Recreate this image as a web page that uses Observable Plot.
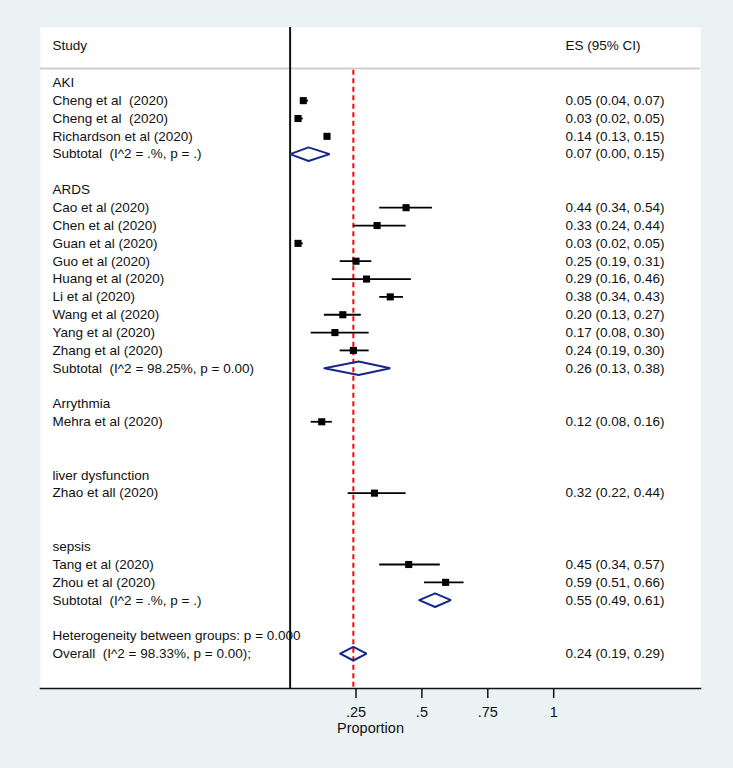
<!DOCTYPE html>
<html><head><meta charset="utf-8">
<script src="https://cdn.jsdelivr.net/npm/d3@7"></script>
<script src="https://cdn.jsdelivr.net/npm/@observablehq/plot@0.6"></script>
<style>
body{margin:0;background:#EAF2F3;}
svg text{white-space:pre;}
</style></head><body><div id="chart"></div>
<script>
// ---- data ----
const groups = ["AKI", "ARDS", "Arrythmia", "liver dysfunction", "sepsis"];
const studyNames = [
  "Cheng et al  (2020)", "Cheng et al  (2020)", "Richardson et al (2020)",
  "Cao et al (2020)", "Chen et al (2020)", "Guan et al (2020)", "Guo et al (2020)",
  "Huang et al (2020)", "Li et al (2020)", "Wang et al (2020)", "Yang et al (2020)",
  "Zhang et al (2020)",
  "Mehra et al (2020)",
  "Zhao et all (2020)",
  "Tang et al (2020)", "Zhou et al (2020)"
];
const studyGroup = [0, 0, 0, 1, 1, 1, 1, 1, 1, 1, 1, 1, 2, 3, 4, 4];
const studyES = [0.05, 0.03, 0.14, 0.44, 0.33, 0.03, 0.25, 0.29, 0.38, 0.20, 0.17, 0.24, 0.12, 0.32, 0.45, 0.59];
const studyLo = [0.04, 0.02, 0.13, 0.34, 0.24, 0.02, 0.19, 0.16, 0.34, 0.13, 0.08, 0.19, 0.08, 0.22, 0.34, 0.51];
const studyHi = [0.07, 0.05, 0.15, 0.54, 0.44, 0.05, 0.31, 0.46, 0.43, 0.27, 0.30, 0.30, 0.16, 0.44, 0.57, 0.66];
const subtotalLabels = ["Subtotal  (I^2 = .%, p = .)", "Subtotal  (I^2 = 98.25%, p = 0.00)", null, null, "Subtotal  (I^2 = .%, p = .)"];
const subtotalES = [0.07, 0.26, null, null, 0.55];
const subtotalLo = [0.00, 0.13, null, null, 0.49];
const subtotalHi = [0.15, 0.38, null, null, 0.61];
const heterogeneityLabel = "Heterogeneity between groups: p = 0.000";
const overallLabel = "Overall  (I^2 = 98.33%, p = 0.00);";
const overallES = 0.24, overallLo = 0.19, overallHi = 0.29;
const xTicks = [0.25, 0.5, 0.75, 1];
const headerLeft = "Study";
const headerRight = "ES (95% CI)";
const xLabel = "Proportion";

// ---- layout rows ----
const fmt = v => v.toFixed(2);
const ciText = (e, l, h) => `${fmt(e)} (${fmt(l)}, ${fmt(h)})`;
const leftTexts = [], rightTexts = [], studies = [], diamondPts = [];
const H = 0.38; // diamond half height in row units
function addDiamond(id, row, e, l, h) {
  diamondPts.push({id, x: l, y: row}, {id, x: e, y: row - H}, {id, x: h, y: row}, {id, x: e, y: row + H}, {id, x: l, y: row});
}
let row = 0;
groups.forEach((g, gi) => {
  leftTexts.push({row, text: g}); row++;
  studyNames.forEach((n, i) => {
    if (studyGroup[i] !== gi) return;
    studies.push({row, es: studyES[i], lo: studyLo[i], hi: studyHi[i]});
    leftTexts.push({row, text: n});
    rightTexts.push({row, text: ciText(studyES[i], studyLo[i], studyHi[i])});
    row++;
  });
  if (subtotalLabels[gi]) {
    leftTexts.push({row, text: subtotalLabels[gi]});
    rightTexts.push({row, text: ciText(subtotalES[gi], subtotalLo[gi], subtotalHi[gi])});
    addDiamond("g" + gi, row, subtotalES[gi], subtotalLo[gi], subtotalHi[gi]);
  }
  row += 2;
});
leftTexts.push({row, text: heterogeneityLabel}); row++;
leftTexts.push({row, text: overallLabel});
rightTexts.push({row, text: ciText(overallES, overallLo, overallHi)});
addDiamond("overall", row, overallES, overallLo, overallHi);
const lastRow = row;

const yTop = -3.1, yBottom = lastRow + 1.95;
const headerRow = -2.1, sepRow = -0.8;

const chart = Plot.plot({
  width: 733, height: 768,
  marginLeft: 40, marginRight: 33, marginTop: 27, marginBottom: 80,
  style: {background: "transparent", fontFamily: "'Liberation Sans', Arial, sans-serif", fontSize: "13.5px", color: "#111"},
  x: {domain: [-0.947, 1.557]},
  y: {domain: [yTop, yBottom], reverse: true, axis: null},
  marks: [
    Plot.frame({fill: "white", stroke: null}),
    Plot.ruleY([sepRow], {stroke: "#cfcfcf", strokeWidth: 2}),
    Plot.ruleX([0], {stroke: "#111", strokeWidth: 2}),
    Plot.ruleX([{x: overallES, y1: sepRow + 0.1, y2: yBottom}], {x: "x", y1: "y1", y2: "y2", stroke: "#ff0000", strokeWidth: 2, strokeDasharray: "5,3.5"}),
    Plot.ruleY(studies, {y: "row", x1: "lo", x2: "hi", stroke: "#000", strokeWidth: 1.8}),
    Plot.dot(studies, {x: "es", y: "row", symbol: "square", r: 4, fill: "#000", stroke: null}),
    Plot.line(diamondPts, {x: "x", y: "y", z: "id", stroke: "#14288c", strokeWidth: 2, strokeLinejoin: "miter"}),
    Plot.text([{row: headerRow, text: headerLeft}], {y: "row", text: "text", frameAnchor: "left", dx: 12, textAnchor: "start", fill: "#111", fontSize: 13.5}),
    Plot.text([{row: headerRow, text: headerRight}], {y: "row", text: "text", frameAnchor: "right", dx: -135, textAnchor: "start", fill: "#111", fontSize: 13.5}),
    Plot.text(leftTexts, {y: "row", text: "text", frameAnchor: "left", dx: 12, textAnchor: "start", fill: "#111", fontSize: 13.5}),
    Plot.text(rightTexts, {y: "row", text: "text", frameAnchor: "right", dx: -135, textAnchor: "start", fill: "#111", fontSize: 13.5}),
    Plot.frame({anchor: "bottom", stroke: "#111", strokeWidth: 1.5}),
    Plot.axisX({ticks: xTicks, tickFormat: d => String(d).replace(/^0\./, "."), tickSize: 10, tickPadding: 8,
      stroke: "#111", strokeWidth: 1.5, fill: "#111", fontSize: 14.5,
      label: xLabel, labelAnchor: "center", labelArrow: "none", labelOffset: 44})
  ]
});
document.getElementById("chart").appendChild(chart);
</script>
</body></html>
